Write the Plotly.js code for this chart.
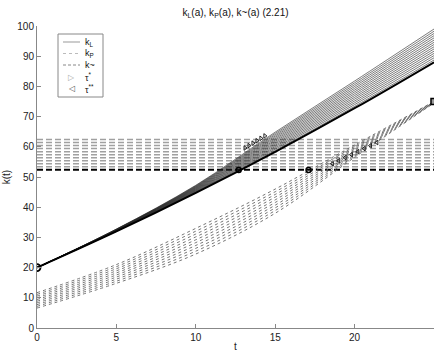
<!DOCTYPE html>
<html><head><meta charset="utf-8">
<script src="https://cdn.plot.ly/plotly-3.0.1.min.js"></script>
<style>html,body{margin:0;padding:0;background:#fff}#chart{width:438px;height:352px}</style>
</head><body><div id="chart"></div>
<script>
// time grid for the curves
const tGrid = [0, 5, 10, 15, 20, 25];
// k_L curves (first = main, black)
const kL = [
  [20, 31.97, 44.76, 58.35, 72.77, 88.00],
  [20, 32.02, 44.92, 58.78, 73.37, 88.73],
  [20, 32.07, 45.09, 59.22, 73.97, 89.47],
  [20, 32.13, 45.25, 59.65, 74.57, 90.20],
  [20, 32.18, 45.42, 60.08, 75.17, 90.93],
  [20, 32.24, 45.59, 60.52, 75.77, 91.67],
  [20, 32.29, 45.75, 60.95, 76.37, 92.40],
  [20, 32.34, 45.92, 61.38, 76.97, 93.13],
  [20, 32.40, 46.09, 61.82, 77.57, 93.87],
  [20, 32.45, 46.25, 62.25, 78.17, 94.60],
  [20, 32.50, 46.42, 62.68, 78.77, 95.33],
  [20, 32.56, 46.59, 63.12, 79.37, 96.07],
  [20, 32.61, 46.75, 63.55, 79.97, 96.80],
  [20, 32.66, 46.92, 63.98, 80.57, 97.53],
  [20, 32.72, 47.09, 64.42, 81.17, 98.27],
  [20, 32.77, 47.26, 64.85, 81.77, 99.00]
];
// k_P curves (first = main)
const kP = [
  [11.70, 21.00, 33.00, 46.00, 60.60, 75.00],
  [11.13, 20.31, 32.06, 45.11, 60.14, 74.94],
  [10.57, 19.62, 31.11, 44.22, 59.69, 74.89],
  [10.00, 18.93, 30.17, 43.33, 59.23, 74.83],
  [9.43, 18.24, 29.22, 42.44, 58.78, 74.78],
  [8.87, 17.56, 28.28, 41.56, 58.32, 74.72],
  [8.30, 16.87, 27.33, 40.67, 57.87, 74.67],
  [7.73, 16.18, 26.39, 39.78, 57.41, 74.61],
  [7.17, 15.49, 25.44, 38.89, 56.96, 74.56],
  [6.60, 14.80, 24.50, 38.00, 56.50, 74.50]
];
// k~ levels (first = main, black)
const kTilde = [52.4, 53.4, 54.4, 55.4, 56.4, 57.4, 58.4, 59.4, 60.4, 61.4, 62.4];
// tau* and tau** points
const tauStarT = [13.1, 13.35, 13.6, 13.85, 14.1, 14.35];
const tauStarK = [59.6, 60.4, 61.2, 62.0, 62.8, 63.6];
const tauStar2T = [18.6, 19.0, 19.4, 19.8, 20.2, 20.6, 21.0, 21.4];
const tauStar2K = [54.4, 55.4, 56.4, 57.4, 58.4, 59.4, 60.4, 61.4];
// main switching points and end points
const switchT = [12.7, 17.1], switchK = [52.3, 52.3];
const startT = [0], startK = [20];
const endT = [25], endK = [75];
// legend labels
const legendLabels = ['k<sub>L</sub>', 'k<sub>P</sub>', 'k~', 'τ<sup>*</sup>', 'τ<sup>**</sup>'];

const traces = [];
kTilde.forEach((lv, i) => {
  traces.push({x: [0, 25], y: [lv, lv], mode: 'lines', type: 'scatter',
    line: {color: i === 0 ? '#000' : '#a0a0a0', width: i === 0 ? 2 : 1.5, dash: '6px,3px'},
    name: 'k~', hoverinfo: 'skip'});
});
kP.forEach((ys) => {
  traces.push({x: tGrid, y: ys, mode: 'lines', type: 'scatter',
    line: {color: '#666', width: 0.9, dash: 'dot', shape: 'spline'},
    name: 'k_P', hoverinfo: 'skip'});
});
kL.slice(1).forEach((ys) => {
  traces.push({x: tGrid, y: ys, mode: 'lines', type: 'scatter',
    line: {color: '#222', width: 0.6, shape: 'spline'},
    name: 'k_L', hoverinfo: 'skip'});
});
traces.push({x: tGrid, y: kL[0], mode: 'lines', type: 'scatter',
  line: {color: '#000', width: 2, shape: 'spline'}, name: 'k_L main'});
traces.push({x: tauStarT, y: tauStarK, mode: 'markers', type: 'scatter',
  marker: {symbol: 'triangle-right-open', size: 4, color: '#222', line: {width: 1}}, name: 'tau*'});
traces.push({x: tauStar2T, y: tauStar2K, mode: 'markers', type: 'scatter',
  marker: {symbol: 'triangle-left-open', size: 4, color: '#222', line: {width: 1}}, name: 'tau**'});
traces.push({x: switchT, y: switchK, mode: 'markers', type: 'scatter',
  marker: {symbol: 'circle-open', size: 5, color: '#000', line: {width: 1.5}}, name: 'switch'});
traces.push({x: startT, y: startK, mode: 'markers', type: 'scatter',
  marker: {symbol: 'circle-open', size: 7, color: '#000', line: {width: 1.8}}, name: 'start'});
traces.push({x: endT, y: endK, mode: 'markers', type: 'scatter',
  marker: {symbol: 'square', size: 6, color: '#999', line: {width: 1.5, color: '#000'}}, name: 'end'});

// legend drawn in pixel-mapped paper coords (plot area: x 37..434, y 26..328)
const px = (p) => (p - 37) / 397;
const py = (p) => (328 - p) / 302;
const rowsY = [42, 53.5, 65, 77, 89];
const shapes = [
  {type: 'rect', xref: 'paper', yref: 'paper', x0: px(58), x1: px(103), y0: py(97), y1: py(34),
    line: {color: '#888', width: 1}, fillcolor: '#fff', layer: 'above'},
  {type: 'line', xref: 'paper', yref: 'paper', x0: px(63), x1: px(80), y0: py(rowsY[0]), y1: py(rowsY[0]),
    line: {color: '#999', width: 1}, layer: 'above'},
  {type: 'line', xref: 'paper', yref: 'paper', x0: px(63), x1: px(80), y0: py(rowsY[1]), y1: py(rowsY[1]),
    line: {color: '#bbb', width: 1, dash: 'dot'}, layer: 'above'},
  {type: 'line', xref: 'paper', yref: 'paper', x0: px(63), x1: px(80), y0: py(rowsY[2]), y1: py(rowsY[2]),
    line: {color: '#888', width: 1, dash: '3px,2px'}, layer: 'above'}
];
const lf = {family: 'Liberation Sans, Arial, sans-serif', size: 9, color: '#111'};
const annotations = legendLabels.map((txt, i) => ({
  xref: 'paper', yref: 'paper', x: px(83), y: py(rowsY[i]), xanchor: 'left', yanchor: 'middle',
  text: txt, showarrow: false, font: lf}));
annotations.push({xref: 'paper', yref: 'paper', x: px(71.5), y: py(rowsY[3]), xanchor: 'center', yanchor: 'middle',
  text: '▷', showarrow: false, font: {family: 'DejaVu Sans', size: 8, color: '#aaa'}});
annotations.push({xref: 'paper', yref: 'paper', x: px(71.5), y: py(rowsY[4]), xanchor: 'center', yanchor: 'middle',
  text: '◁', showarrow: false, font: {family: 'DejaVu Sans', size: 8, color: '#555'}});

const axFont = {family: 'Liberation Sans, Arial, sans-serif', size: 10, color: '#222'};
const layout = {
  width: 438, height: 352,
  margin: {l: 37, r: 4, t: 26, b: 24, pad: 0},
  paper_bgcolor: '#fff', plot_bgcolor: '#fff',
  font: axFont,
  showlegend: false,
  title: {text: 'k<sub>L</sub>(a), k<sub>P</sub>(a), k~(a) (2.21)', font: {family: 'Liberation Sans, Arial, sans-serif', size: 10, color: '#111'},
    xref: 'paper', x: 0.5, xanchor: 'center', yref: 'container', y: 0.965, yanchor: 'middle'},
  xaxis: {range: [0, 25], tickvals: [0, 5, 10, 15, 20, 25], ticks: 'inside', ticklen: 4, tickcolor: '#888',
    showline: true, linecolor: '#888', linewidth: 1, showgrid: false, zeroline: false, tickfont: axFont,
    title: {text: 't', font: axFont, standoff: 2}},
  yaxis: {range: [0, 100], tickvals: [0, 10, 20, 30, 40, 50, 60, 70, 80, 90, 100], ticks: 'inside', ticklen: 4, tickcolor: '#888',
    showline: true, linecolor: '#888', linewidth: 1, showgrid: false, zeroline: false, tickfont: axFont,
    title: {text: 'k(t)', font: axFont, standoff: 4}},
  shapes: shapes,
  annotations: annotations
};
Plotly.newPlot('chart', traces, layout, {displayModeBar: false, staticPlot: true});
</script></body></html>
